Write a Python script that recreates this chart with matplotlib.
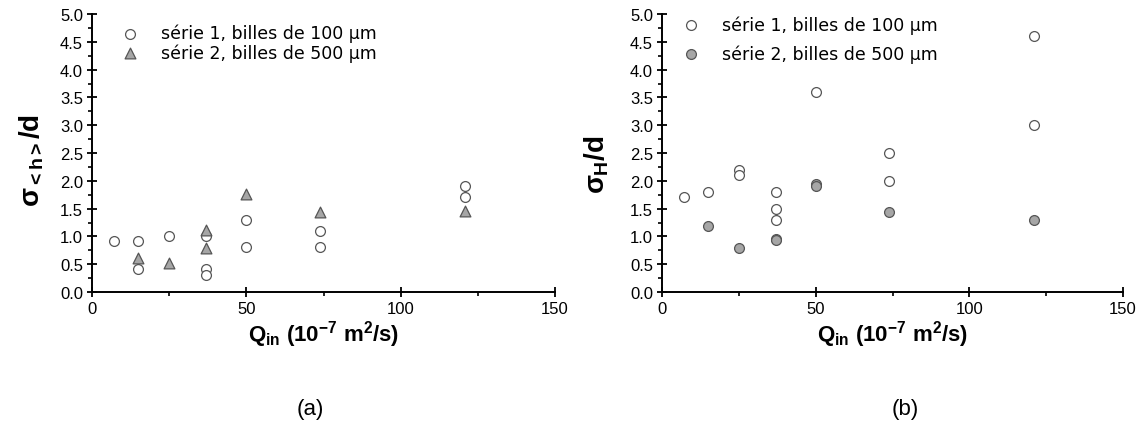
import numpy as np
import matplotlib
matplotlib.use("Agg")
import matplotlib.pyplot as plt
from matplotlib.ticker import MultipleLocator, FormatStrFormatter

plt.rcParams['font.family'] = ['Liberation Sans', 'DejaVu Sans']
plt.rcParams['mathtext.fontset'] = 'custom'
plt.rcParams['mathtext.rm'] = 'Liberation Sans:bold'
plt.rcParams['mathtext.it'] = 'Liberation Sans:bold'
plt.rcParams['mathtext.bf'] = 'Liberation Sans:bold'

# (a) sigma_<h>/d
a1_q = [7, 15, 15, 25, 37, 37, 37, 50, 50, 74, 74, 121, 121]
a1_s = [0.91, 0.91, 0.41, 1.0, 1.0, 0.42, 0.31, 1.3, 0.81, 1.1, 0.81, 1.9, 1.7]
a2_q = [15, 25, 37, 37, 50, 74, 121]
a2_s = [0.62, 0.52, 1.11, 0.79, 1.76, 1.43, 1.45]

# (b) sigma_H/d
b1_q = [7, 15, 25, 25, 37, 37, 37, 50, 74, 74, 121, 121]
b1_s = [1.7, 1.8, 2.2, 2.11, 1.8, 1.5, 1.29, 3.6, 2.5, 2.0, 4.6, 3.0]
b2_q = [15, 25, 37, 37, 50, 50, 74, 121]
b2_s = [1.18, 0.79, 0.96, 0.94, 1.94, 1.91, 1.44, 1.3]

lab1 = 'série 1, billes de 100 μm'
lab2 = 'série 2, billes de 500 μm'

fig = plt.figure(figsize=(11.44, 4.39), dpi=100)
ax1 = fig.add_axes([92 / 1144, 1 - 293 / 439, 463 / 1144, 278 / 439])
ax2 = fig.add_axes([662 / 1144, 1 - 293 / 439, 461 / 1144, 278 / 439])

ax1.scatter(a1_q, a1_s, s=50, facecolor='white', edgecolor='#555555', linewidth=0.9, label=lab1, zorder=3)
ax1.scatter(a2_q, a2_s, s=60, marker='^', facecolor='#a6a6a6', edgecolor='#555555', linewidth=0.9, label=lab2, zorder=3)
ax2.scatter(b1_q, b1_s, s=50, facecolor='white', edgecolor='#555555', linewidth=0.9, label=lab1, zorder=3)
ax2.scatter(b2_q, b2_s, s=50, facecolor='#a6a6a6', edgecolor='#555555', linewidth=0.9, label=lab2, zorder=3)

for ax in (ax1, ax2):
    ax.set_xlim(0, 150)
    ax.set_ylim(0, 5)
    ax.spines['top'].set_visible(False)
    ax.spines['right'].set_visible(False)
    ax.spines['left'].set_linewidth(1.4)
    ax.spines['bottom'].set_linewidth(1.4)
    ax.xaxis.set_major_locator(MultipleLocator(50))
    ax.xaxis.set_minor_locator(MultipleLocator(25))
    ax.yaxis.set_major_locator(MultipleLocator(0.5))
    ax.yaxis.set_minor_locator(MultipleLocator(0.25))
    ax.yaxis.set_major_formatter(FormatStrFormatter('%.1f'))
    ax.tick_params(which='major', direction='inout', length=7, width=1.3, labelsize=12, pad=3)
    ax.tick_params(which='minor', direction='out', length=3, width=1.2)
    ax.set_xlabel(r'Q$_{\mathrm{in}}$ (10$^{\mathrm{-7}}$ m$^{\mathrm{2}}$/s)',
                  fontsize=16, fontweight='bold')
    ax.xaxis.set_label_coords(0.5, -0.095)

ax1.set_ylabel(r'$\sigma_{\mathrm{<h>}}$/d', fontsize=20, fontweight='bold')
ax1.yaxis.set_label_coords(-0.10, 0.475)
ax2.set_ylabel(r'$\sigma_{\mathrm{H}}$/d', fontsize=20, fontweight='bold')
ax2.yaxis.set_label_coords(-0.11, 0.46)

ax1.legend(loc='upper left', bbox_to_anchor=(0.045, 0.965), frameon=False,
           prop={'family': 'DejaVu Sans', 'size': 12.5}, labelspacing=0.05,
           handletextpad=0.8, borderpad=0, borderaxespad=0)
ax2.legend(loc='upper left', bbox_to_anchor=(0.025, 0.995), frameon=False,
           prop={'family': 'DejaVu Sans', 'size': 12.5}, labelspacing=0.6,
           handletextpad=0.8, borderpad=0, borderaxespad=0)

fig.text(310 / 1144, 1 - 410 / 439, '(a)', fontsize=16, ha='center', va='center',
         family=['Liberation Sans Narrow', 'Liberation Sans'])
fig.text(905 / 1144, 1 - 410 / 439, '(b)', fontsize=16, ha='center', va='center',
         family=['Liberation Sans Narrow', 'Liberation Sans'])

fig.savefig('out.png', dpi=100)
